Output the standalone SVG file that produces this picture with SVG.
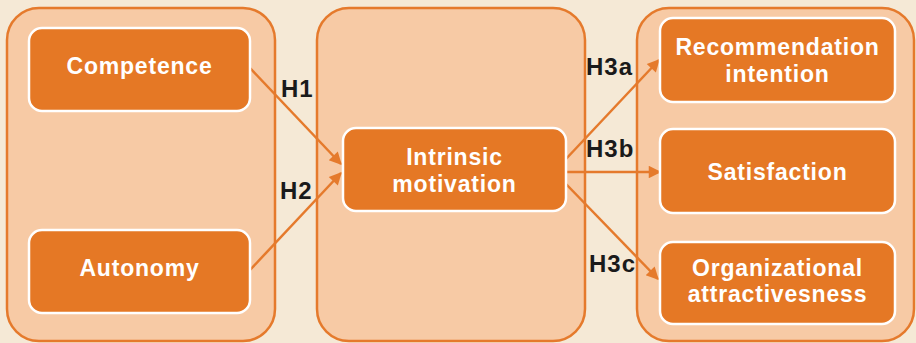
<svg xmlns="http://www.w3.org/2000/svg" width="916" height="343" viewBox="0 0 916 343">
<style>
.bg{fill:#f5e9d6}
.grp{fill:#f7caa5;stroke:#e57a2c;stroke-width:2.5}
.node{fill:#e57825;stroke:#ffffff;stroke-width:2.5}
.nt{font-family:"Liberation Sans",Arial,sans-serif;font-weight:bold;font-size:23px;fill:#ffffff;text-anchor:middle;letter-spacing:0.8px}
.lbl{font-family:"Liberation Sans",Arial,sans-serif;font-weight:bold;font-size:24px;fill:#1a1a1a;letter-spacing:1px}
.conn{stroke:#e57a2c;stroke-width:2.5;fill:none}
</style>
<defs>
<marker id="ah" viewBox="0 0 10 10" refX="9" refY="5" markerWidth="6" markerHeight="5" markerUnits="strokeWidth" orient="auto">
<path d="M0,0 L10,5 L0,10 z" fill="#e57a2c"/>
</marker>
</defs>
<rect class="bg" x="0" y="0" width="916" height="343"/>
<g id="groups">
<rect class="grp" x="7" y="8" width="268" height="333" rx="32"/>
<rect class="grp" x="317" y="8" width="268" height="333" rx="32"/>
<rect class="grp" x="637" y="8" width="277" height="333" rx="32"/>
</g>
<g id="connectors">
<line class="conn" x1="250" y1="68" x2="341" y2="164" marker-end="url(#ah)"/>
<line class="conn" x1="250" y1="270" x2="341" y2="173" marker-end="url(#ah)"/>
<line class="conn" x1="565" y1="160" x2="659" y2="60" marker-end="url(#ah)"/>
<line class="conn" x1="566" y1="172" x2="660" y2="172" marker-end="url(#ah)"/>
<line class="conn" x1="566" y1="184" x2="658" y2="279" marker-end="url(#ah)"/>
<text class="lbl" x="281" y="97">H1</text>
<text class="lbl" x="280" y="199">H2</text>
<text class="lbl" x="586" y="75">H3a</text>
<text class="lbl" x="586" y="157">H3b</text>
<text class="lbl" x="589" y="272">H3c</text>
</g>
<g id="competence">
<rect class="node" x="29" y="28" width="221" height="83" rx="13"/>
<text class="nt" x="139.5" y="74">Competence</text>
</g>
<g id="autonomy">
<rect class="node" x="29" y="230" width="221" height="83" rx="13"/>
<text class="nt" x="139.5" y="276">Autonomy</text>
</g>
<g id="intrinsic-motivation">
<rect class="node" x="343" y="128" width="223" height="83" rx="13"/>
<text class="nt" x="454.5" y="165">Intrinsic</text>
<text class="nt" x="454.5" y="192">motivation</text>
</g>
<g id="recommendation-intention">
<rect class="node" x="660" y="18" width="235" height="84" rx="13"/>
<text class="nt" x="777.5" y="55">Recommendation</text>
<text class="nt" x="777.5" y="82">intention</text>
</g>
<g id="satisfaction">
<rect class="node" x="660" y="129" width="235" height="84" rx="13"/>
<text class="nt" x="777.5" y="180">Satisfaction</text>
</g>
<g id="organizational-attractivesness">
<rect class="node" x="660" y="242" width="235" height="82" rx="13"/>
<text class="nt" x="777.5" y="276">Organizational</text>
<text class="nt" x="777.5" y="302">attractivesness</text>
</g>
</svg>
